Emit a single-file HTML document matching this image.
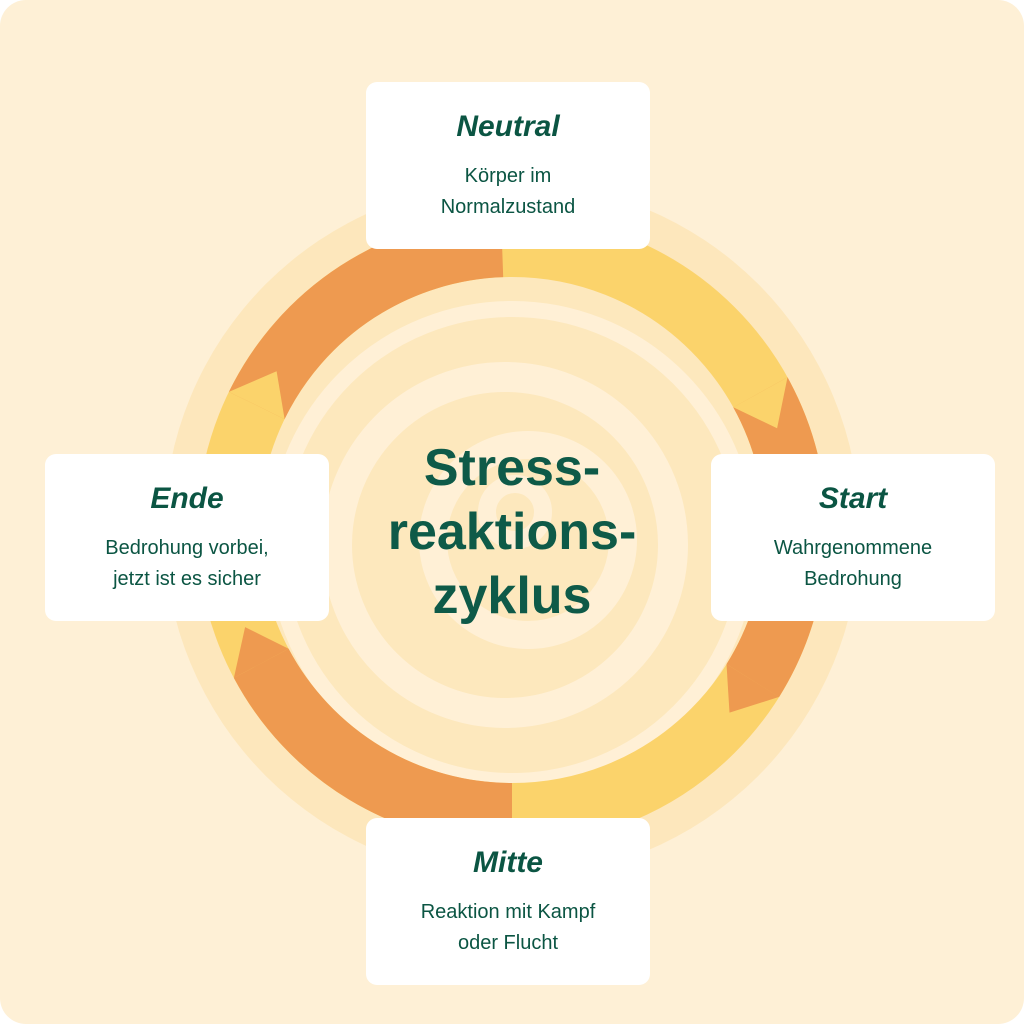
<!DOCTYPE html>
<html><head><meta charset="utf-8"><style>
html,body{margin:0;padding:0;background:#fff;}
#p{position:relative;width:1024px;height:1024px;background:#fef0d6;border-radius:26px;overflow:hidden;font-family:"Liberation Sans",sans-serif;color:#0b5543;}
svg{position:absolute;left:0;top:0;}
.b{position:absolute;width:284px;height:167px;background:#fff;border-radius:11px;text-align:center;}
.t{font-weight:bold;font-style:italic;font-size:30px;margin-top:28px;line-height:34px;}
.d{font-size:20px;line-height:31px;margin-top:17px;}
#c{position:absolute;left:312px;top:436px;width:400px;text-align:center;font-weight:bold;font-size:52px;line-height:64px;color:#0e5a48;}
</style></head><body><div id="p">
<svg width="1024" height="1024" viewBox="0 0 1024 1024">
<circle cx="512" cy="530" r="348" fill="#fde7bc"/>
<circle cx="512" cy="530" r="253" fill="#fde8bd"/>
<circle cx="512" cy="545" r="236" fill="none" stroke="#fff0d6" stroke-width="16"/>
<circle cx="505" cy="545" r="168" fill="none" stroke="#fff0d6" stroke-width="30"/>
<circle cx="528" cy="540" r="95" fill="none" stroke="#fff0d6" stroke-width="28"/>
<circle cx="515" cy="512" r="28" fill="none" stroke="#fff0d6" stroke-width="18"/>
<circle cx="512" cy="530" r="284" fill="none" stroke="#fbd36b" stroke-width="62"/>
<g fill="none" stroke="#ee9a50" stroke-width="62">
<circle cx="512" cy="530" r="284" stroke-dasharray="302.4 2000" transform="rotate(-29 512 530)"/>
<circle cx="512" cy="530" r="284" stroke-dasharray="307.3 2000" transform="rotate(90 512 530)"/>
<circle cx="512" cy="530" r="284" stroke-dasharray="307.3 2000" transform="rotate(206 512 530)"/>
</g>
<polygon points="787.5,377.3 733.3,407.3 777.1,428.2" fill="#fbd36b"/>
<polygon points="779.1,696.9 726.5,664.1 729.5,712.6" fill="#ee9a50"/>
<polygon points="233.9,677.9 288.6,648.8 245.1,627.1" fill="#ee9a50"/>
<polygon points="228.9,391.9 284.6,419.1 276.6,371.2" fill="#fbd36b"/>
</svg>
<div id="c">Stress-<br>reaktions-<br>zyklus</div>
<div class="b" style="left:366px;top:82px"><div class="t">Neutral</div><div class="d">Körper im<br>Normalzustand</div></div>
<div class="b" style="left:45px;top:454px"><div class="t">Ende</div><div class="d">Bedrohung vorbei,<br>jetzt ist es sicher</div></div>
<div class="b" style="left:711px;top:454px"><div class="t">Start</div><div class="d">Wahrgenommene<br>Bedrohung</div></div>
<div class="b" style="left:366px;top:818px"><div class="t">Mitte</div><div class="d">Reaktion mit Kampf<br>oder Flucht</div></div>
</div></body></html>
